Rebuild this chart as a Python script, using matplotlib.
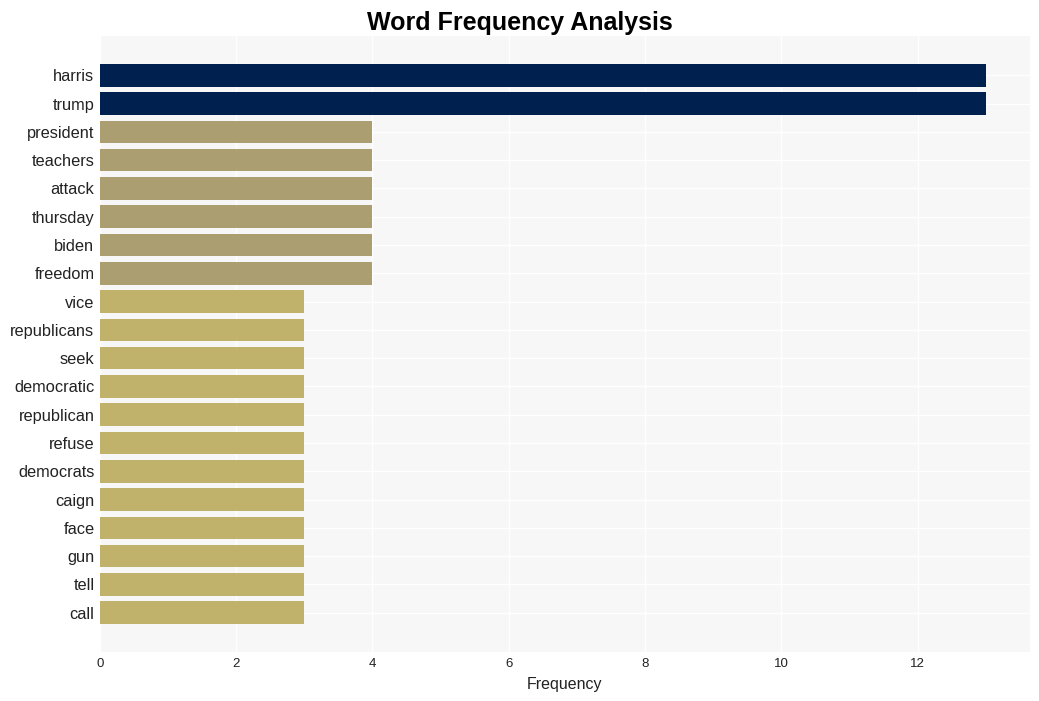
import matplotlib
matplotlib.use("Agg")
import matplotlib.pyplot as plt

words = ["harris", "trump", "president", "teachers", "attack", "thursday", "biden",
         "freedom", "vice", "republicans", "seek", "democratic", "republican", "refuse",
         "democrats", "caign", "face", "gun", "tell", "call"]
counts = [13, 13, 4, 4, 4, 4, 4, 4, 3, 3, 3, 3, 3, 3, 3, 3, 3, 3, 3, 3]
color_by_count = {13: "#00214f", 4: "#ab9f72", 3: "#c0b16b"}

plt.rcParams['font.family'] = ['Liberation Sans', 'DejaVu Sans']

fig = plt.figure(figsize=(10.39, 7.01), dpi=100)
ax = fig.add_axes([0.0962, 0.0699, 0.8951, 0.8787])
ax.set_facecolor("#f7f7f7")
ypos = list(range(len(words)))
ax.barh(ypos, counts, height=0.8, color=[color_by_count[c] for c in counts], zorder=2)
ax.set_yticks(ypos)
ax.set_yticklabels(words, fontsize=11.8, color="#222222")
ax.invert_yaxis()
ax.set_xticks([0, 2, 4, 6, 8, 10, 12])
ax.tick_params(axis='x', labelsize=9.5, colors="#222222", length=0, pad=4.5)
ax.tick_params(axis='y', length=0, pad=4)
ax.grid(True, color="white", linewidth=1, zorder=0)
ax.set_axisbelow(True)
for s in ax.spines.values():
    s.set_visible(False)
ax.set_xlabel("Frequency", fontsize=11.5, color="#222222", labelpad=5)
fig.suptitle("Word Frequency Analysis", fontsize=18, fontweight="bold", y=0.985)
fig.savefig("out.png", dpi=100)
